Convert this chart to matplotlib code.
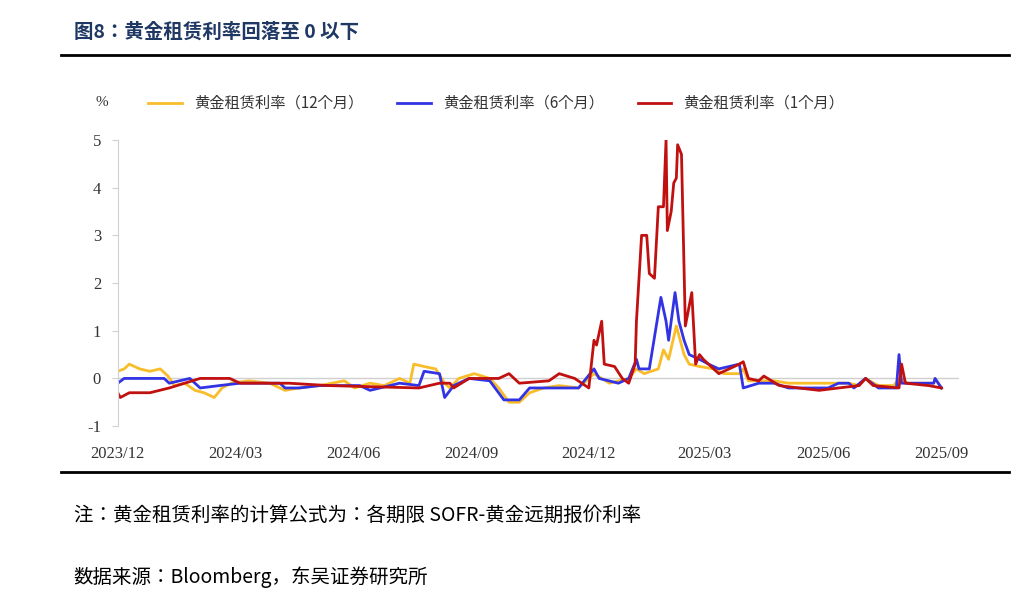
import matplotlib
matplotlib.use("Agg")
import matplotlib.pyplot as plt
from matplotlib import font_manager
import pandas as pd

y12_dates = ["2023-12-01","2023-12-06","2023-12-10","2023-12-18","2023-12-26","2024-01-03","2024-01-09","2024-01-14","2024-01-22","2024-01-30","2024-02-06","2024-02-14","2024-02-20","2024-02-27","2024-03-12","2024-03-28","2024-04-09","2024-04-20","2024-05-06","2024-05-25","2024-06-02","2024-06-14","2024-06-25","2024-07-07","2024-07-15","2024-07-18","2024-07-26","2024-08-04","2024-08-11","2024-08-15","2024-08-22","2024-09-03","2024-09-15","2024-09-22","2024-09-30","2024-10-08","2024-10-16","2024-10-27","2024-11-08","2024-11-23","2024-12-05","2024-12-17","2025-01-01","2025-01-07","2025-01-13","2025-01-24","2025-01-28","2025-02-01","2025-02-07","2025-02-13","2025-02-17","2025-02-25","2025-03-08","2025-03-16","2025-03-28","2025-03-31","2025-04-04","2025-04-24","2025-05-05","2025-06-21","2025-06-29","2025-07-04","2025-07-14","2025-07-26","2025-07-30","2025-08-06","2025-08-26","2025-08-27","2025-09-01"]
y12_vals = [0.15,0.2,0.3,0.2,0.15,0.2,0.05,-0.15,-0.1,-0.25,-0.3,-0.4,-0.2,-0.1,-0.05,-0.1,-0.25,-0.2,-0.15,-0.05,-0.2,-0.1,-0.15,0.0,-0.1,0.3,0.25,0.2,-0.1,-0.2,0.0,0.1,0.0,-0.2,-0.5,-0.5,-0.3,-0.2,-0.15,-0.2,0.1,-0.1,0.0,0.2,0.1,0.2,0.6,0.4,1.1,0.5,0.3,0.25,0.2,0.1,0.1,0.2,-0.05,-0.05,-0.1,-0.1,-0.15,0.0,-0.15,-0.15,0.0,-0.1,-0.1,0.0,-0.2]

m6_dates = ["2023-12-01","2023-12-06","2024-01-06","2024-01-10","2024-01-26","2024-02-03","2024-02-18","2024-03-05","2024-04-05","2024-04-09","2024-04-20","2024-05-06","2024-06-06","2024-06-14","2024-07-07","2024-07-22","2024-07-26","2024-08-07","2024-08-11","2024-08-18","2024-08-30","2024-09-15","2024-09-26","2024-10-08","2024-10-16","2024-11-08","2024-11-23","2024-12-05","2024-12-09","2024-12-24","2025-01-01","2025-01-07","2025-01-09","2025-01-17","2025-01-26","2025-01-30","2025-02-01","2025-02-06","2025-02-09","2025-02-13","2025-02-17","2025-02-25","2025-03-04","2025-03-12","2025-03-28","2025-03-31","2025-04-12","2025-04-24","2025-05-05","2025-06-05","2025-06-13","2025-06-21","2025-06-25","2025-07-04","2025-07-14","2025-07-28","2025-07-30","2025-08-01","2025-08-26","2025-08-27","2025-09-01"]
m6_vals = [-0.1,0.0,0.0,-0.1,0.0,-0.2,-0.15,-0.1,-0.1,-0.2,-0.2,-0.15,-0.15,-0.25,-0.1,-0.15,0.15,0.1,-0.4,-0.15,0.0,-0.05,-0.45,-0.45,-0.2,-0.2,-0.2,0.2,0.0,-0.1,0.0,0.4,0.2,0.2,1.7,1.2,0.8,1.8,1.2,0.8,0.5,0.4,0.3,0.2,0.3,-0.2,-0.1,-0.1,-0.2,-0.2,-0.1,-0.1,-0.2,0.0,-0.2,-0.2,0.5,-0.1,-0.1,0.0,-0.2]

m1_dates = ["2023-12-01","2023-12-03","2023-12-10","2023-12-26","2024-01-10","2024-01-22","2024-02-03","2024-02-26","2024-03-05","2024-04-12","2024-05-13","2024-07-22","2024-08-07","2024-08-15","2024-08-18","2024-08-30","2024-09-22","2024-09-30","2024-10-08","2024-10-31","2024-11-08","2024-11-20","2024-12-01","2024-12-05","2024-12-07","2024-12-11","2024-12-13","2024-12-21","2024-12-27","2025-01-01","2025-01-06","2025-01-07","2025-01-11","2025-01-15","2025-01-17","2025-01-21","2025-01-24","2025-01-28","2025-01-30","2025-01-31","2025-02-03","2025-02-05","2025-02-07","2025-02-08","2025-02-11","2025-02-14","2025-02-19","2025-02-22","2025-02-25","2025-02-28","2025-03-04","2025-03-12","2025-03-20","2025-03-28","2025-03-31","2025-04-04","2025-04-12","2025-04-16","2025-04-28","2025-05-13","2025-05-29","2025-06-13","2025-06-29","2025-07-04","2025-07-10","2025-07-30","2025-08-01","2025-08-04","2025-08-22","2025-09-01"]
m1_vals = [-0.3,-0.4,-0.3,-0.3,-0.2,-0.1,0.0,0.0,-0.1,-0.1,-0.15,-0.2,-0.1,-0.1,-0.2,0.0,0.0,0.1,-0.1,-0.05,0.1,0.0,-0.2,0.8,0.7,1.2,0.3,0.25,0.0,-0.1,0.3,1.2,3.0,3.0,2.2,2.1,3.6,3.6,5.0,3.1,3.5,4.1,4.2,4.9,4.7,1.1,1.8,0.3,0.5,0.4,0.3,0.1,0.2,0.3,0.35,0.0,-0.05,0.05,-0.15,-0.2,-0.25,-0.2,-0.15,0.0,-0.15,-0.2,0.3,-0.1,-0.15,-0.2]

series_names = ["黄金租赁利率（12个月）", "黄金租赁利率（6个月）", "黄金租赁利率（1个月）"]
tick_dates = ["2023-12-01","2024-03-01","2024-06-01","2024-09-01","2024-12-01","2025-03-01","2025-06-01","2025-09-01"]
tick_labels = ["2023/12","2024/03","2024/06","2024/09","2024/12","2025/03","2025/06","2025/09"]
y_ticks = [-1, 0, 1, 2, 3, 4, 5]

cjk_fonts = [f.name for f in font_manager.fontManager.ttflist if "CJK" in f.name]
pref = [n for n in ["Noto Serif CJK SC", "Noto Sans CJK SC", "Noto Sans CJK JP"] if n in cjk_fonts]
CJK = pref[0] if pref else (cjk_fonts[0] if cjk_fonts else "DejaVu Sans")
SER = "Liberation Serif"

fig = plt.figure(figsize=(10.24, 6.14), dpi=100)
ax = fig.add_axes([0.115, 0.306, 0.822, 0.466])

colors = ["#F9BD2A", "#3333E6", "#C01010"]
for d, v, c, n in [(y12_dates, y12_vals, colors[0], series_names[0]),
                   (m6_dates, m6_vals, colors[1], series_names[1]),
                   (m1_dates, m1_vals, colors[2], series_names[2])]:
    ax.plot(pd.to_datetime(d), v, color=c, lw=2, label=n)

ax.set_ylim(-1, 5)
ax.set_xlim(pd.Timestamp("2023-12-01"), pd.Timestamp("2025-09-15"))
ax.set_yticks(y_ticks)
ax.set_yticklabels([str(t) for t in y_ticks], fontfamily=SER, fontsize=12, color="#333333")
ax.set_xticks(pd.to_datetime(tick_dates))
ax.set_xticklabels(tick_labels, fontfamily=SER, fontsize=12, color="#333333")
for s in ["top", "right", "bottom"]:
    ax.spines[s].set_visible(False)
ax.spines["left"].set_color("#d0d0d0")
ax.axhline(0, color="#d0d0d0", lw=1, zorder=0)
ax.tick_params(axis="y", length=4, color="#d0d0d0", pad=8)
ax.tick_params(axis="x", length=0, pad=14)

leg = ax.legend(loc="lower left", bbox_to_anchor=(0.02, 1.05), ncol=3, frameon=False,
                prop={"family": CJK, "size": 11}, handlelength=2.2, columnspacing=2.2)
for t in leg.get_texts():
    t.set_color("#333333")
fig.text(0.093, 0.833, "%", fontsize=11, fontfamily=SER, color="#333333", ha="left", va="center")

fig.text(0.072, 0.947, "图8：黄金租赁利率回落至 0 以下", fontsize=14, fontweight="bold",
         fontfamily=CJK, color="#1F3864", va="center")
fig.add_artist(plt.Line2D([0.06, 0.985], [0.911, 0.911], color="black", lw=2))
fig.add_artist(plt.Line2D([0.06, 0.985], [0.231, 0.231], color="black", lw=2))
fig.text(0.072, 0.16, "注：黄金租赁利率的计算公式为：各期限 SOFR-黄金远期报价利率", fontsize=14,
         fontfamily=CJK, color="black", va="center")
fig.text(0.072, 0.06, "数据来源：Bloomberg，东吴证券研究所", fontsize=14,
         fontfamily=CJK, color="black", va="center")

fig.savefig("out.png", dpi=100)
